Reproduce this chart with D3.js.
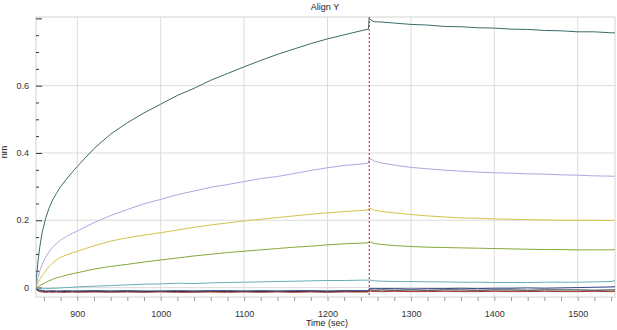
<!DOCTYPE html>
<html>
<head>
<meta charset="utf-8">
<script src="https://cdn.jsdelivr.net/npm/d3@7"></script>
<style>
    body { margin: 0; background: #ffffff; }
    text { font-family: "Liberation Sans", Arial, sans-serif; }
</style>
</head>
<body>
<div id="graph"></div>
<script>
// Sample times (sec)
var times = [850, 851, 853, 855, 858, 862, 866, 870, 875, 880, 887, 894, 900,
             920, 940, 960, 980, 1000, 1020, 1040, 1060, 1080, 1100, 1120, 1140,
             1160, 1180, 1200, 1220, 1240, 1249, 1250, 1252, 1256, 1265,
             1280, 1300, 1320, 1340, 1360, 1380, 1400, 1420, 1440, 1460, 1480,
             1500, 1520, 1540, 1545];

// Responses (nm), one array per trace
var teal     = [0.000, 0.030, 0.080, 0.120, 0.165, 0.205, 0.235, 0.258, 0.280, 0.300, 0.322, 0.343, 0.360,
                0.413, 0.456, 0.490, 0.519, 0.545, 0.571, 0.592, 0.616, 0.636, 0.656, 0.675, 0.693,
                0.709, 0.725, 0.739, 0.751, 0.763, 0.768, 0.800, 0.795, 0.790, 0.789,
                0.786, 0.782, 0.780, 0.776, 0.775, 0.772, 0.771, 0.768, 0.767, 0.764, 0.763,
                0.760, 0.760, 0.757, 0.757];
var lavender = [0.000, 0.010, 0.030, 0.050, 0.070, 0.090, 0.106, 0.119, 0.131, 0.141, 0.152, 0.161, 0.168,
                0.193, 0.214, 0.232, 0.249, 0.262, 0.276, 0.287, 0.298, 0.306, 0.315, 0.324, 0.330,
                0.339, 0.348, 0.356, 0.363, 0.367, 0.370, 0.383, 0.382, 0.376, 0.370,
                0.364, 0.357, 0.353, 0.349, 0.346, 0.343, 0.341, 0.340, 0.338, 0.337, 0.335,
                0.334, 0.332, 0.331, 0.331];
var yellow   = [0.000, 0.005, 0.015, 0.024, 0.036, 0.050, 0.062, 0.072, 0.082, 0.090, 0.097, 0.103, 0.108,
                0.124, 0.138, 0.148, 0.156, 0.163, 0.171, 0.179, 0.186, 0.192, 0.198, 0.203, 0.208,
                0.213, 0.218, 0.222, 0.226, 0.229, 0.231, 0.236, 0.235, 0.230, 0.226,
                0.222, 0.217, 0.213, 0.210, 0.207, 0.206, 0.204, 0.203, 0.202, 0.201, 0.200,
                0.200, 0.200, 0.199, 0.200];
var green    = [0.000, 0.000, 0.003, 0.006, 0.010, 0.015, 0.020, 0.024, 0.029, 0.032, 0.037, 0.041, 0.044,
                0.055, 0.063, 0.069, 0.076, 0.082, 0.088, 0.094, 0.099, 0.104, 0.108, 0.112, 0.116,
                0.120, 0.123, 0.127, 0.130, 0.132, 0.133, 0.136, 0.135, 0.131, 0.128,
                0.125, 0.122, 0.120, 0.119, 0.118, 0.117, 0.116, 0.115, 0.114, 0.113, 0.113,
                0.112, 0.112, 0.112, 0.113];
var cyan     = [0.000, -0.002, -0.003, -0.004, -0.004, -0.003, -0.003, -0.002, -0.002, -0.001, 0.000, 0.001, 0.002,
                0.004, 0.006, 0.008, 0.010, 0.011, 0.013, 0.012, 0.014, 0.015, 0.016, 0.017, 0.018,
                0.019, 0.020, 0.021, 0.021, 0.022, 0.022, 0.023, 0.022, 0.020, 0.019,
                0.018, 0.018, 0.017, 0.017, 0.016, 0.016, 0.015, 0.015, 0.015, 0.016, 0.016,
                0.016, 0.017, 0.018, 0.021];
var navy     = [0.000, -0.004, -0.006, -0.008, -0.009, -0.010, -0.010, -0.009, -0.010, -0.010, -0.009, -0.010, -0.010,
                -0.009, -0.010, -0.009, -0.010, -0.010, -0.009, -0.010, -0.009, -0.009, -0.010, -0.009, -0.010,
                -0.009, -0.009, -0.010, -0.009, -0.009, -0.009, -0.003, -0.003, -0.003, -0.003,
                -0.003, -0.004, -0.003, -0.003, -0.002, -0.003, -0.002, -0.002, -0.001, -0.002, -0.001,
                0.000, 0.001, 0.002, 0.003];
var black    = [0.000, -0.005, -0.008, -0.010, -0.011, -0.012, -0.011, -0.012, -0.012, -0.011, -0.012, -0.012, -0.011,
                -0.012, -0.011, -0.012, -0.012, -0.011, -0.012, -0.011, -0.012, -0.012, -0.011, -0.012, -0.011,
                -0.012, -0.011, -0.012, -0.011, -0.012, -0.011, -0.007, -0.007, -0.008, -0.007,
                -0.008, -0.007, -0.008, -0.007, -0.007, -0.008, -0.007, -0.007, -0.008, -0.007, -0.007,
                -0.007, -0.008, -0.007, -0.007];
var red      = [0.000, -0.006, -0.010, -0.012, -0.013, -0.014, -0.013, -0.014, -0.013, -0.014, -0.014, -0.013, -0.014,
                -0.013, -0.014, -0.013, -0.014, -0.013, -0.014, -0.014, -0.013, -0.014, -0.013, -0.014, -0.013,
                -0.014, -0.013, -0.014, -0.013, -0.013, -0.013, -0.012, -0.011, -0.012, -0.012,
                -0.011, -0.012, -0.012, -0.011, -0.012, -0.012, -0.011, -0.012, -0.012, -0.011, -0.012,
                -0.012, -0.011, -0.012, -0.011];

var traces  = [black, red, navy, cyan, green, yellow, lavender, teal];
var colours = ['#222222', '#a0302a', '#3b4a8c', '#66adb5', '#86a83a', '#d6c24a', '#b2a6de', '#3a6b69'];

var xTicks = [900, 1000, 1100, 1200, 1300, 1400, 1500];
var yTicks = [0, 0.2, 0.4, 0.6];
var markerTime = 1250;

function D3App ()
{
    var W = 617, H = 330;
    var margin = { left: 36, right: 615, top: 17, bottom: 297 };

    var svg = d3.select('#graph').append('svg')
                .attr('width', W)
                .attr('height', H);

    var xScale = d3.scaleLinear().domain([850.5, 1544.7]).range([margin.left, margin.right]);
    var yScale = d3.scaleLinear().domain([-0.028, 0.804]).range([margin.bottom, margin.top]);

    // grid
    svg.append('g')
       .selectAll('line')
       .data(xTicks)
       .enter().append('line')
       .attr('x1', d => xScale(d)).attr('x2', d => xScale(d))
       .attr('y1', margin.top).attr('y2', margin.bottom)
       .attr('stroke', '#dcdcdc').attr('stroke-width', 1);

    svg.append('g')
       .selectAll('line')
       .data(yTicks)
       .enter().append('line')
       .attr('x1', margin.left).attr('x2', margin.right)
       .attr('y1', d => yScale(d)).attr('y2', d => yScale(d))
       .attr('stroke', '#dcdcdc').attr('stroke-width', 1);

    // frame
    svg.append('rect')
       .attr('x', margin.left).attr('y', margin.top)
       .attr('width', margin.right - margin.left).attr('height', margin.bottom - margin.top)
       .attr('fill', 'none').attr('stroke', '#d4d4d4');

    // x axis: minor ticks every 20 sec below the frame
    var xAxis = d3.axisBottom(xScale)
                  .tickValues(d3.range(860, 1545, 20))
                  .tickSize(4)
                  .tickFormat(d => (d % 100 === 0) ? d : '');
    var gx = svg.append('g')
                .attr('transform', 'translate(0,' + margin.bottom + ')')
                .call(xAxis);
    gx.select('.domain').remove();
    gx.selectAll('line').attr('stroke', '#9a9a9a');
    gx.selectAll('text')
      .attr('fill', '#333')
      .attr('font-size', '9px')
      .attr('font-family', '"Liberation Sans", Arial, sans-serif')
      .attr('y', 14).attr('dy', '0.71em');

    // y axis: ticks drawn inside the frame
    var yAxis = d3.axisRight(yScale)
                  .tickValues(d3.range(0, 0.801, 0.05))
                  .tickSize(3)
                  .tickFormat('');
    var gy = svg.append('g')
                .attr('transform', 'translate(' + margin.left + ',0)')
                .call(yAxis);
    gy.select('.domain').remove();
    gy.selectAll('line').attr('stroke', '#333');
    gy.selectAll('.tick line')
      .filter(d => Math.abs(d / 0.2 - Math.round(d / 0.2)) < 1e-6)
      .attr('x2', 6);

    svg.append('g')
       .selectAll('text')
       .data(yTicks)
       .enter().append('text')
       .attr('x', 29)
       .attr('y', d => yScale(d))
       .attr('dy', '0.35em')
       .attr('text-anchor', 'end')
       .attr('font-size', '9px')
       .attr('fill', '#333')
       .text(d => String(+d.toFixed(1)));

    // traces
    var line = d3.line()
                 .x((d, i) => xScale(times[i]))
                 .y(d => yScale(d));

    svg.append('clipPath').attr('id', 'clip')
       .append('rect')
       .attr('x', margin.left).attr('y', margin.top)
       .attr('width', margin.right - margin.left).attr('height', margin.bottom - margin.top);

    var plot = svg.append('g').attr('clip-path', 'url(#clip)');

    plot.selectAll('path')
        .data(traces)
        .enter().append('path')
        .attr('d', line)
        .attr('fill', 'none')
        .attr('stroke', (d, i) => colours[i])
        .attr('stroke-width', 1);

    // step marker
    plot.append('line')
        .attr('x1', xScale(markerTime)).attr('x2', xScale(markerTime))
        .attr('y1', margin.top).attr('y2', margin.bottom)
        .attr('stroke', '#a8283e')
        .attr('stroke-width', 1)
        .attr('stroke-dasharray', '2,2');

    // titles
    svg.append('text')
       .attr('x', 325).attr('y', 10)
       .attr('text-anchor', 'middle')
       .attr('font-size', '9px')
       .attr('fill', '#222')
       .text('Align Y');

    svg.append('text')
       .attr('x', 327).attr('y', 326)
       .attr('text-anchor', 'middle')
       .attr('font-size', '9px')
       .attr('fill', '#222')
       .text('Time (sec)');

    svg.append('text')
       .attr('transform', 'translate(7,152) rotate(-90)')
       .attr('text-anchor', 'middle')
       .attr('font-size', '9px')
       .attr('fill', '#222')
       .text('nm');
}

D3App();
</script>
</body>
</html>
